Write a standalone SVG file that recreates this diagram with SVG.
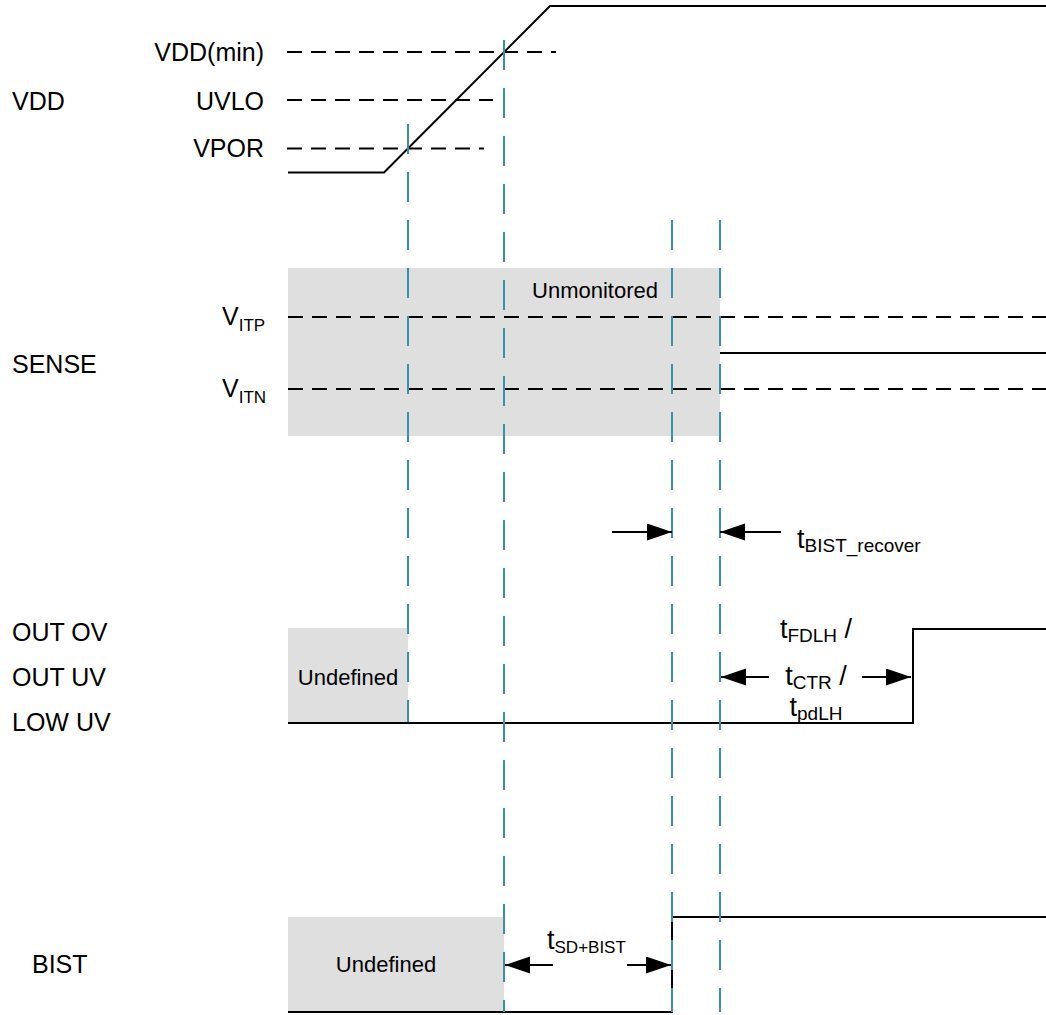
<svg xmlns="http://www.w3.org/2000/svg" width="1046" height="1015" viewBox="0 0 1046 1015">
<style>
text{font-family:"Liberation Sans",Arial,sans-serif;fill:#000}
.lbl{font-size:25px}
.t{font-size:27px}
.sm{font-size:22px}
.sub{font-size:17px}
.sub2{font-size:19px}
.sig{fill:none;stroke:#000;stroke-width:2}
.thr{fill:none;stroke:#000;stroke-width:2;stroke-dasharray:15 9}
.mk{fill:none;stroke:#3A90AA;stroke-width:2;stroke-dasharray:30 18}
.box{fill:#DFDFDF}
.dim{fill:none;stroke:#000;stroke-width:2;marker-end:url(#ah)}
</style>
<defs>
<marker id="ah" markerUnits="userSpaceOnUse" markerWidth="26" markerHeight="18" refX="25" refY="8.5" orient="auto">
<path d="M0,0 L25,8.5 L0,17 Z" fill="#000"/>
</marker>
</defs>
<rect width="1046" height="1015" fill="#fff"/>

<g id="vdd">
<text class="lbl" x="12" y="110">VDD</text>
<text class="lbl" x="264" y="61" text-anchor="end">VDD(min)</text>
<text class="lbl" x="264" y="110" text-anchor="end">UVLO</text>
<text class="lbl" x="264" y="157" text-anchor="end">VPOR</text>
<line class="thr" x1="287" y1="52" x2="556" y2="52"/>
<line class="thr" x1="287" y1="100" x2="493" y2="100"/>
<line class="thr" x1="287" y1="148.5" x2="484" y2="148.5"/>
<polyline class="sig" points="288,172.5 384,172.5 550,6 1046,6"/>
</g>

<g id="sense">
<rect class="box" x="288" y="268" width="432" height="168"/>
<text class="sm" x="595" y="298" text-anchor="middle">Unmonitored</text>
<text class="lbl" x="12" y="373">SENSE</text>
<text class="lbl" x="222" y="325">V<tspan class="sub" dy="6">ITP</tspan></text>
<text class="lbl" x="222" y="397">V<tspan class="sub" dy="6">ITN</tspan></text>
<line class="thr" x1="288" y1="317" x2="1046" y2="317"/>
<line class="thr" x1="288" y1="389" x2="1046" y2="389"/>
<line class="sig" x1="720" y1="353" x2="1046" y2="353"/>
</g>

<g id="out">
<rect class="box" x="288" y="628" width="120" height="94"/>
<text class="sm" x="348" y="685" text-anchor="middle">Undefined</text>
<text class="lbl" x="12" y="641">OUT OV</text>
<text class="lbl" x="12" y="686">OUT UV</text>
<text class="lbl" x="12" y="731">LOW UV</text>
<polyline class="sig" points="288,723 913,723 913,629 1046,629"/>
</g>

<g id="bist">
<rect class="box" x="288" y="917" width="216" height="95"/>
<text class="sm" x="386" y="972" text-anchor="middle">Undefined</text>
<text class="lbl" x="32" y="973">BIST</text>
<polyline class="sig" points="288,1012 672,1012 672,917 1046,917"/>
</g>

<g id="markers">
<line class="mk" x1="408" y1="124" x2="408" y2="722"/>
<line class="mk" x1="504" y1="40" x2="504" y2="1012"/>
<line class="mk" x1="672" y1="220" x2="672" y2="1012"/>
<line class="mk" x1="720" y1="220" x2="720" y2="1012"/>
</g>

<g id="connectors">
<line class="dim" x1="612" y1="532" x2="672" y2="532"/>
<line class="dim" x1="781" y1="532" x2="720" y2="532"/>
<line class="dim" x1="769" y1="677" x2="721" y2="677"/>
<line class="dim" x1="862" y1="677" x2="911" y2="677"/>
<line class="dim" x1="553" y1="965" x2="505" y2="965"/>
<line class="dim" x1="627" y1="965" x2="671" y2="965"/>
</g>

<g id="timing-labels">
<text class="t" x="797" y="548">t<tspan class="sub2" dy="4">BIST_recover</tspan></text>
<text class="t" x="816" y="638" text-anchor="middle">t<tspan class="sub2" dy="4">FDLH</tspan><tspan dy="-4"> /</tspan></text>
<text class="t" x="816" y="685" text-anchor="middle">t<tspan class="sub2" dy="4">CTR</tspan><tspan dy="-4"> /</tspan></text>
<text class="t" x="816" y="716" text-anchor="middle">t<tspan class="sub2" dy="4">pdLH</tspan></text>
<text class="t" x="547" y="949">t<tspan class="sub" dy="4">SD+BIST</tspan></text>
</g>
</svg>
